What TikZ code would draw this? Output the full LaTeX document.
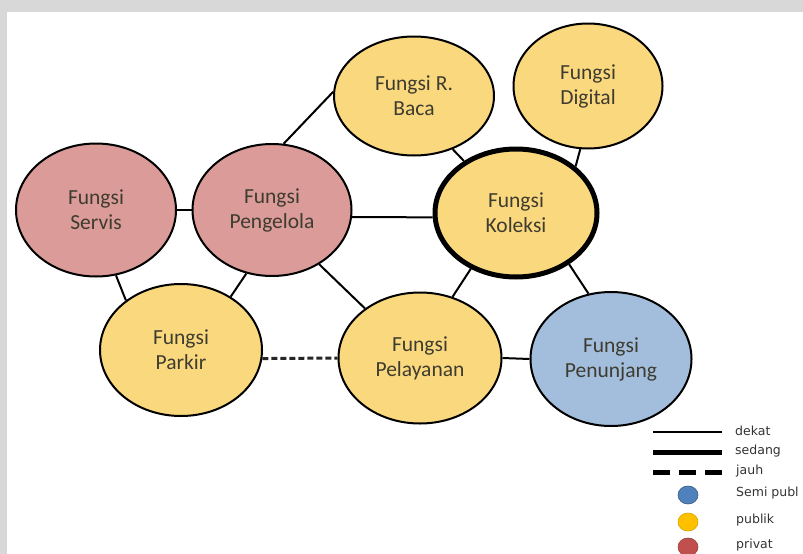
\documentclass[tikz,border=0pt]{standalone}
\usepackage{fontspec}
\setmainfont{Carlito}
\newfontfamily\legendfont{DejaVu Sans}
\usetikzlibrary{shapes.geometric}

\definecolor{pubyellow}{RGB}{250,216,126}
\definecolor{privpink}{RGB}{218,155,153}
\definecolor{semiblue}{RGB}{163,189,221}
\definecolor{txtcol}{RGB}{62,60,48}
\definecolor{framegray}{RGB}{216,216,216}
\definecolor{dotblue}{RGB}{79,129,189}
\definecolor{dotyellow}{RGB}{255,192,0}
\definecolor{dotred}{RGB}{192,80,77}

\tikzset{
  fn/.style={ellipse, draw=black, line width=2pt, inner sep=0pt, align=center,
             text=txtcol, font=\fontsize{21.5}{25}\selectfont},
  pub/.style={fn, fill=pubyellow},
  priv/.style={fn, fill=privpink},
  semi/.style={fn, fill=semiblue},
  link/.style={line width=2pt, draw=black},
  farlink/.style={line width=3pt, draw=black!85, dash pattern=on 6pt off 3pt},
  legtext/.style={anchor=west, inner sep=0pt, text=black!80,
                  font=\legendfont\fontsize{12.5}{14}\selectfont},
  dot/.style={ellipse, minimum width=20pt, minimum height=18pt, inner sep=0pt,
              line width=0.6pt}
}

\begin{document}
\begin{tikzpicture}[x=1pt,y=-1pt]
  % page frame
  \fill[framegray] (0,0) rectangle (803,554);
  \fill[white] (7,12) rectangle (803,554);
  \useasboundingbox (0,0) rectangle (803,554);

  % function bubbles
  \node[priv, minimum width=160pt, minimum height=133pt] (servis) at (96,210) {Fungsi\\Servis};
  \node[priv, minimum width=159pt, minimum height=132pt] (pengelola) at (272,210) {Fungsi\\Pengelola};
  \node[pub, minimum width=160pt, minimum height=119pt] (baca) at (414,96) {Fungsi R.\\Baca};
  \node[pub, minimum width=149pt, minimum height=125pt] (digital) at (588,86) {Fungsi\\Digital};
  \node[pub, line width=5pt, minimum width=162pt, minimum height=128pt] (koleksi) at (516,213) {Fungsi\\Koleksi};
  \node[pub, minimum width=162pt, minimum height=132pt] (parkir) at (181,350) {Fungsi\\Parkir};
  \node[pub, minimum width=163pt, minimum height=131pt] (pelayanan) at (420,358) {Fungsi\\Pelayanan};
  \node[semi, minimum width=161pt, minimum height=134pt] (penunjang) at (611,359) {Fungsi\\Penunjang};

  % relations
  \draw[link] (servis.east) -- (pengelola.west);
  \draw[link] (servis.-73) -- (parkir.138);
  \draw[link] (pengelola.-112) -- (parkir.47);
  \draw[link] (pengelola.80) -- (baca.177);
  \draw[link] (pengelola.-5) -- (koleksi.183);
  \draw[link] (pengelola.-49) -- (pelayanan.138);
  \draw[link] (koleksi.135) -- (baca.-54);
  \draw[link] (koleksi.38) -- (digital.-97);
  \draw[link] (koleksi.-129) -- (pelayanan.62);
  \draw[link] (koleksi.-44) -- (penunjang.109);
  \draw[link] (pelayanan.east) -- (penunjang.west);
  \draw[farlink] (parkir.-6) -- (pelayanan.west);

  % legend
  \coordinate (ka) at (653,432); \coordinate (kb) at (722,432);
  \coordinate (sa) at (653,452); \coordinate (sb) at (722,452);
  \coordinate (ja) at (653,472); \coordinate (jb) at (722,472);
  \draw[line width=2pt] (ka) -- (kb);
  \draw[line width=5pt] (sa) -- (sb);
  \draw[line width=5pt, dash pattern=on 17pt off 9pt] (ja) -- (jb);
  \node[legtext] (tdekat) at (735,431) {dekat};
  \node[legtext] (tsedang) at (735,451) {sedang};
  \node[legtext] (tjauh) at (736,471) {jauh};
  \node[dot, fill=dotblue, draw=dotblue!70!black] (dsemi) at (688,495) {};
  \node[dot, fill=dotyellow, draw=dotyellow!85!black] (dpub) at (688,522) {};
  \node[dot, fill=dotred, draw=dotred!80!black] (dpriv) at (688,547) {};
  \node[legtext] (tsemi) at (736,493) {Semi publ};
  \node[legtext] (tpub) at (736,520) {publik};
  \node[legtext] (tpriv) at (736,545) {privat};
\end{tikzpicture}
\end{document}
